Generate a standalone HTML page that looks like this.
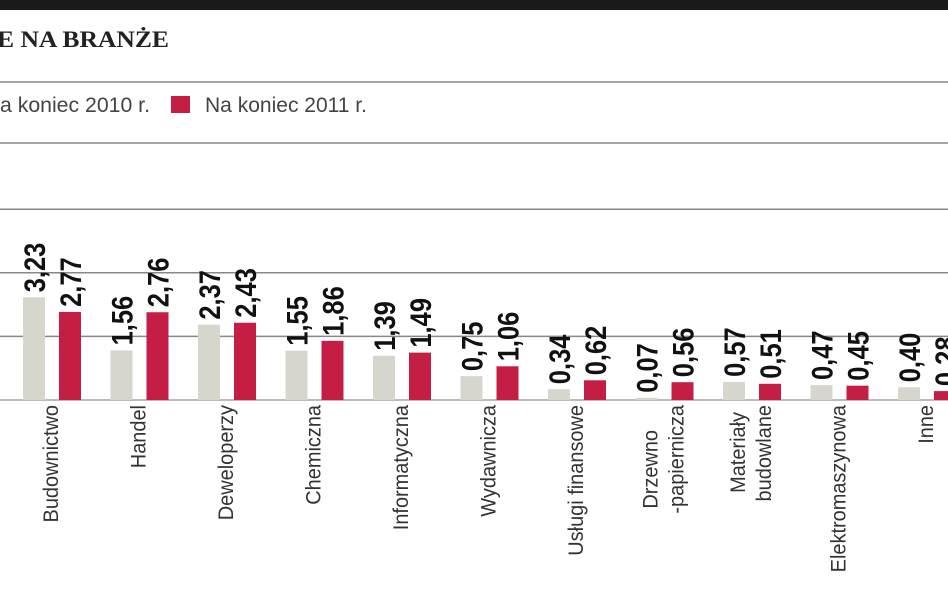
<!DOCTYPE html>
<html><head><meta charset="utf-8"><style>
html,body{margin:0;padding:0;background:#fff;width:948px;height:593px;overflow:hidden}
svg{display:block}
.cond{font-family:"Liberation Sans Narrow","Liberation Sans",sans-serif;font-stretch:condensed}
</style></head><body>
<svg id="chart" width="948" height="593">
<rect x="0" y="0" width="948" height="10" fill="#1a1a1a"/>
<text x="-3" y="47" font-family="Liberation Serif,serif" font-weight="bold" font-size="23" textLength="172" lengthAdjust="spacingAndGlyphs" fill="#222">E NA BRANŻE</text>
<g>
<text class="cond" x="0" y="112" font-size="21" textLength="150" lengthAdjust="spacingAndGlyphs" fill="#444">a koniec 2010 r.</text>
<rect x="171" y="96" width="19" height="17" fill="#c41e45"/>
<text class="cond" x="205" y="112" font-size="21" textLength="162" lengthAdjust="spacingAndGlyphs" fill="#444">Na koniec 2011 r.</text>
</g>
<g id="grid"></g><g id="bars"></g><g id="labels"></g>
</svg>
<script>
const categories=[["Budownictwo"],["Handel"],["Deweloperzy"],["Chemiczna"],["Informatyczna"],["Wydawnicza"],["Usługi finansowe"],["Drzewno","-papiernicza"],["Materiały","budowlane"],["Elektromaszynowa"],["Inne"]];
const values2010=[3.23,1.56,2.37,1.55,1.39,0.75,0.34,0.07,0.57,0.47,0.40];
const values2011=[2.77,2.76,2.43,1.86,1.49,1.06,0.62,0.56,0.51,0.45,0.28];
const valueLabels2010=["3,23","1,56","2,37","1,55","1,39","0,75","0,34","0,07","0,57","0,47","0,40"];
const valueLabels2011=["2,77","2,76","2,43","1,86","1,49","1,06","0,62","0,56","0,51","0,45","0,28"];
const gridValues=[2,4,6];
const NS="http://www.w3.org/2000/svg";
const base=400, ppu=31.8;
const y=v=>base-v*ppu;
const x=i=>23+87.5*i;
function mk(tag,attrs,parent){const e=document.createElementNS(NS,tag);for(const k in attrs)e.setAttribute(k,attrs[k]);parent.appendChild(e);return e;}
const grid=document.getElementById('grid'),bars=document.getElementById('bars'),labels=document.getElementById('labels');
[82,143].forEach(yy=>{const l=mk('line',{x1:0,x2:948,y1:yy,y2:yy,stroke:'#888','stroke-width':1.5},grid);

});
gridValues.forEach(v=>{const l=mk('line',{x1:0,x2:948,y1:y(v),y2:y(v),stroke:'#888','stroke-width':1.5},grid);

});
const bl=mk('line',{x1:0,x2:948,y1:base,y2:base,stroke:'#bbb','stroke-width':2},grid);


function valText(tx,ty,str){const t=mk('text',{x:0,y:0,transform:`translate(${tx},${ty}) rotate(-90) scale(0.85,1)`,'font-size':30,'font-weight':'bold',fill:'#111',class:'cond'},labels);t.textContent=str;return t;}
categories.forEach((c,i)=>{
 const w=22;
 const g=mk('rect',{x:x(i),y:y(values2010[i]),width:w,height:values2010[i]*ppu,fill:'#d6d6cc'},bars);
 
 
 const r=mk('rect',{x:x(i)+36,y:y(values2011[i]),width:w,height:values2011[i]*ppu,fill:'#c41e45'},bars);
 
 
 const t1=valText(x(i)+22,y(values2010[i])-5,valueLabels2010[i]);
 
 
 const t2=valText(x(i)+58,y(values2011[i])-5,valueLabels2011[i]);
 
 
 const cx=x(i)+29;
 c.forEach((line,j)=>{
  const n=c.length;
  const lx=cx+(j-(n-1)/2)*26+6;
  const ly=(n>1&&j===0)?(i===7?430:412):405;
  const t=mk('text',{x:0,y:0,transform:`translate(${lx},${ly}) rotate(-90) scale(0.95,1)`,'text-anchor':'end','font-size':21,fill:'#333',class:'cond'},labels);
  t.textContent=line;
  
  
 });
});
</script>
</body></html>
